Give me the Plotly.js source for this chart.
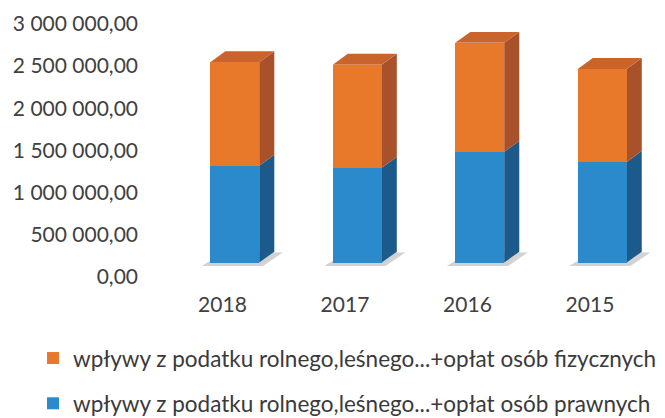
<!DOCTYPE html>
<html>
<head>
<meta charset="utf-8">
<script src="https://cdn.plot.ly/plotly-3.0.1.min.js"></script>
<style>html,body{margin:0;padding:0;background:#fff;}#chart{width:665px;height:418px;}</style>
</head>
<body>
<div id="chart"></div>
<script>
// Data
var categories = ['2018', '2017', '2016', '2015'];
var prawnych = [1150000, 1125000, 1315000, 1195000];   // blue, bottom
var fizycznych = [1230000, 1225000, 1295000, 1105000]; // orange, top
var seriesNames = [
  'wpływy z podatku rolnego,leśnego...+opłat osób prawnych',
  'wpływy z podatku rolnego,leśnego...+opłat osób fizycznych'
];
var yTickVals = [0, 500000, 1000000, 1500000, 2000000, 2500000, 3000000];
var yTickText = ['0,00', '500 000,00', '1 000 000,00', '1 500 000,00', '2 000 000,00', '2 500 000,00', '3 000 000,00'];

var idx = categories.map(function (c, i) { return i; });
var BAR_W = 0.4, BAR_OFF = -0.1;
var DX = 0.123, DY = 130000; // depth of the 3D effect

var colBlue = '#2a8acb', colBlueSide = '#1d5a8c';
var colOrange = '#e8782a', colOrangeSide = '#a8512b', colOrangeTop = '#c9652c';

var traces = [
  { type: 'bar', name: seriesNames[0], x: idx, y: prawnych, width: BAR_W, offset: BAR_OFF,
    marker: { color: colBlue, line: { width: 0 } }, legendgroup: 'a', legendrank: 2, hoverinfo: 'skip' },
  { type: 'bar', name: seriesNames[1], x: idx, y: fizycznych, width: BAR_W, offset: BAR_OFF,
    marker: { color: colOrange, line: { width: 0 } }, legendgroup: 'b', legendrank: 1, hoverinfo: 'skip' }
];

function P(pts) {
  return 'M' + pts.map(function (p) { return p[0] + ',' + p[1]; }).join('L') + 'Z';
}
var shapes = [];
idx.forEach(function (i) {
  var x0 = i + BAR_OFF, x1 = x0 + BAR_W;
  var b = prawnych[i], t = prawnych[i] + fizycznych[i];
  // floor shadow
  shapes.push({ type: 'path', layer: 'below', line: { width: 0 }, fillcolor: '#d2d2d2',
    path: P([[x0 - 0.07, -40000], [x1 + 0.03, -40000], [x1 + DX + 0.07, DY - 10000], [x0 + DX, DY]]) });
  // blue side
  shapes.push({ type: 'path', layer: 'below', line: { width: 0 }, fillcolor: colBlueSide,
    path: P([[x1, 0], [x1 + DX, DY], [x1 + DX, b + DY], [x1, b]]) });
  // orange side
  shapes.push({ type: 'path', layer: 'below', line: { width: 0 }, fillcolor: colOrangeSide,
    path: P([[x1, b], [x1 + DX, b + DY], [x1 + DX, t + DY], [x1, t]]) });
  // top
  shapes.push({ type: 'path', layer: 'below', line: { width: 0 }, fillcolor: colOrangeTop,
    path: P([[x0, t], [x0 + DX, t + DY], [x1 + DX, t + DY], [x1, t]]) });
});

var layout = {
  width: 665, height: 418,
  margin: { l: 142, r: 10, t: 10, b: 147 },
  paper_bgcolor: '#ffffff', plot_bgcolor: '#ffffff',
  barmode: 'stack',
  showlegend: true,
  font: { family: 'Lato, "Open Sans", sans-serif', size: 20, color: '#404040' },
  xaxis: {
    range: [-0.657, 3.531], tickvals: idx, ticktext: categories,
    showgrid: false, zeroline: false, showline: false, ticks: '',
    ticklabelstandoff: 19, tickfont: { size: 21, color: '#404040' }, fixedrange: true
  },
  yaxis: {
    range: [-100000, 3000000], tickvals: yTickVals, ticktext: yTickText,
    showgrid: false, zeroline: false, showline: false, ticks: '',
    ticklabelshift: 14, ticklabelstandoff: 3, tickfont: { size: 21, color: '#404040' }, fixedrange: true
  },
  legend: {
    xref: 'paper', yref: 'container',
    x: -0.2125, xanchor: 'left', y: 0.194, yanchor: 'top',
    orientation: 'v', traceorder: 'grouped', tracegroupgap: 13,
    font: { size: 22.5, color: '#3a3a3a' }, bgcolor: 'rgba(0,0,0,0)'
  },
  shapes: shapes
};

Plotly.newPlot('chart', traces, layout, { displayModeBar: false, staticPlot: true });
</script>
</body>
</html>
